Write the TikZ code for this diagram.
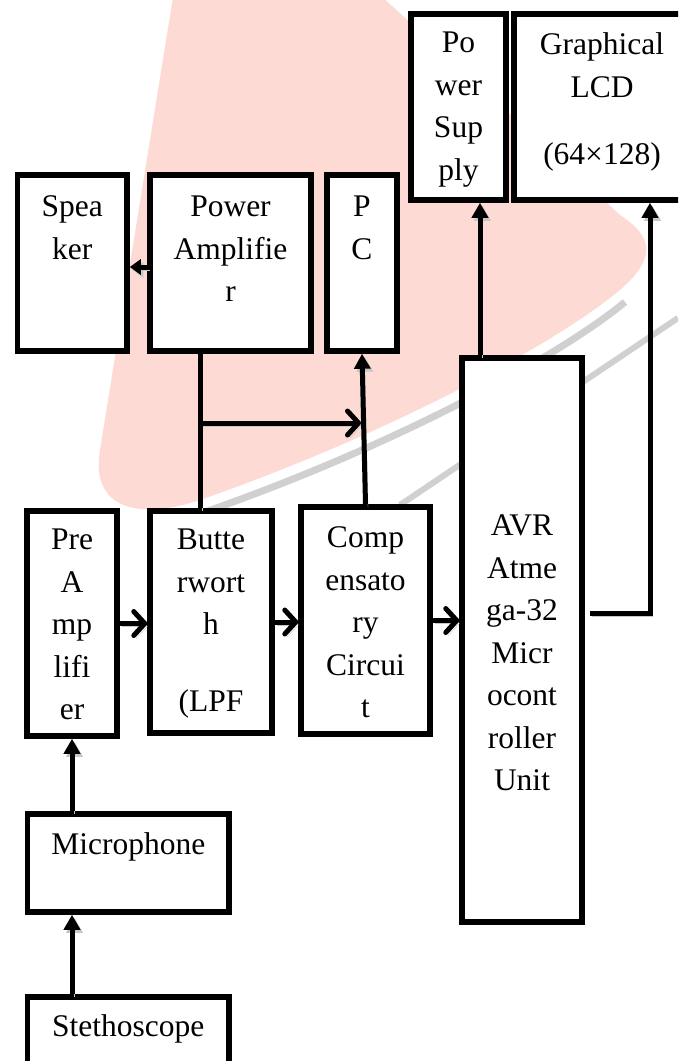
\documentclass[tikz,border=0pt]{standalone}
\usepackage{fontspec}
\setmainfont{Liberation Serif}
\usetikzlibrary{arrows.meta,positioning}
\definecolor{wmpink}{RGB}{253,218,211}
\definecolor{wmgray}{RGB}{208,208,208}

\begin{document}
\begin{tikzpicture}[x=1pt, y=-1pt,
  blk/.style={draw, line width=5.5pt, fill=white, inner sep=0pt},
  lbl/.style={align=center, anchor=base, inner sep=0pt, font=\fontsize{31.5}{42.5}\selectfont},
  con/.style={line width=5pt, preaction={draw=black!22, transform canvas={shift={(2.5pt,-3pt)}}}},
  up/.style={con, -{Triangle[length=15pt,width=16pt]}},
  chev/.style={con, -{Straight Barb[length=11pt,width=24pt,line width=5pt,round]}}]
\clip (0,0) rectangle (678,1061);
\fill[white] (0,0) rectangle (678,1061);

% watermark behind the blocks
\draw[wmgray, line width=7pt] (205,512) .. controls (405,442) and (565,352) .. (625,302);
\draw[wmgray, line width=6pt] (400,505) -- (678,318);
\fill[wmpink] (200,-170) -- (100,450) .. controls (90,510) and (140,520) .. (200,500)
  .. controls (400,430) and (560,340) .. (620,290) .. controls (660,255) and (650,235) .. (620,215) -- cycle;

% blocks
\node[blk, minimum width=109.5pt, minimum height=176pt] (spk) at (72.25,263) {};
\node[blk, minimum width=161pt, minimum height=176pt] (amp) at (230.5,263) {};
\node[blk, minimum width=70pt, minimum height=176pt] (pc) at (362,263) {};
\node[blk, minimum width=95pt, minimum height=186pt] (psu) at (458.5,107) {};
\node[blk, minimum width=176pt, minimum height=186pt] (lcd) at (602,107) {};
\node[blk, minimum width=120pt, minimum height=564pt] (avr) at (522,640) {};
\node[blk, minimum width=90pt, minimum height=225pt] (pre) at (72,623.5) {};
\node[blk, minimum width=122pt, minimum height=222pt] (bw) at (211,622) {};
\node[blk, minimum width=129pt, minimum height=227pt] (comp) at (365.5,620.5) {};
\node[blk, minimum width=201.5pt, minimum height=98pt] (mic) at (128.25,863) {};
\node[blk, minimum width=201.5pt, minimum height=103pt] (steth) at (128.25,1048.5) {};

% texts (base = last line)
\node[lbl] (spkt) at ([yshift=-87pt]spk.north) {Spea\\ker};
\node[lbl] (ampt) at ([yshift=-129.5pt]amp.north) {Power\\Amplifie\\r};
\node[lbl] (pct) at ([yshift=-87pt]pc.north) {P\\C};
\node[lbl] (psut) at ([yshift=-169pt]psu.north) {Po\\wer\\Sup\\ply};
\node[lbl] (lcdt) at ([yshift=-153.5pt]lcd.north) {Graphical\\LCD\\[25pt](64×128)};
\node[lbl] (avrt) at ([yshift=-435.5pt]avr.north) {AVR\\Atme\\ga-32\\Micr\\ocont\\roller\\Unit};
\node[lbl] (pret) at ([yshift=-211.5pt]pre.north) {Pre\\A\\mp\\lifi\\er};
\node[lbl] (bwt) at ([yshift=-203pt]bw.north) {Butte\\rwort\\h\\[34pt](LPF};
\node[lbl] (compt) at ([yshift=-213.5pt]comp.north) {Comp\\ensato\\ry\\Circui\\t};
\node[lbl] (mict) at ([yshift=-43.5pt]mic.north) {Microphone};
\node[lbl] (stetht) at ([yshift=-42.5pt]steth.north) {Stethoscope};

% signal path
\coordinate (br) at (200,423);
\coordinate (brend) at (361,423);
\draw[con, -{Triangle[length=11pt,width=15pt]}] ([yshift=-4pt]amp.west) -- ([yshift=-4pt]spk.east);
\draw[con] ([xshift=-30.5pt]amp.south) -- ([xshift=-30.5pt]amp.south |- bw.north);
\draw[chev] (br) -- (brend);
\draw[up] (comp.north) -- (pc.south);
\draw[chev] (pre.east) -- (pre.east -| bw.west);
\draw[chev] (bw.east) -- (bw.east -| comp.west);
\draw[chev] (comp.east) -- (comp.east -| avr.west);
\draw[up] ([xshift=-42pt]avr.north) -- ([xshift=-42pt]avr.north |- psu.south);
\draw[up] ([xshift=5pt,yshift=27pt]avr.east) -| ([xshift=48pt]lcd.south);
\draw[up] (pre.south |- mic.north) -- (pre.south);
\draw[up] (pre.south |- steth.north) -- (pre.south |- mic.south);
\end{tikzpicture}
\end{document}
